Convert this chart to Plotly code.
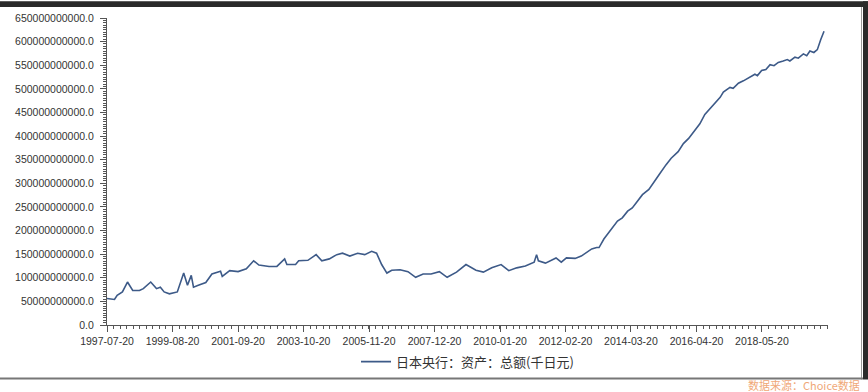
import plotly.graph_objects as go

# ---- data ----
dates = [
    "1997-07-20", "1997-10-15", "1997-11-15", "1998-01-15", "1998-03-15", "1998-05-15",
    "1998-08-01", "1998-09-15", "1998-12-10", "1999-02-15", "1999-04-01", "1999-05-15",
    "1999-07-15", "1999-10-15", "1999-12-28", "2000-02-10", "2000-03-25", "2000-04-20",
    "2000-06-15", "2000-09-10", "2000-11-20", "2001-02-28", "2001-03-20", "2001-06-15",
    "2001-09-20", "2001-12-25", "2002-03-20", "2002-05-20", "2002-09-15", "2002-12-15",
    "2003-03-15", "2003-04-10", "2003-07-20", "2003-08-25", "2003-12-10", "2004-03-15",
    "2004-05-20", "2004-08-15", "2004-11-10", "2005-01-15", "2005-04-10", "2005-07-10",
    "2005-10-01", "2005-12-20", "2006-02-15", "2006-04-15", "2006-06-15", "2006-08-10",
    "2006-11-15", "2007-02-15", "2007-05-15", "2007-08-10", "2007-11-10", "2008-02-15",
    "2008-05-15", "2008-09-01", "2008-12-20", "2009-04-15", "2009-07-10", "2009-10-15",
    "2010-02-01", "2010-05-01", "2010-08-01", "2010-11-10", "2011-02-20", "2011-03-20",
    "2011-04-10", "2011-07-01", "2011-11-01", "2012-01-01", "2012-03-01", "2012-06-10",
    "2012-08-20", "2012-10-20", "2012-12-20", "2013-02-15", "2013-03-15", "2013-05-10",
    "2013-08-01", "2013-10-15", "2013-12-10", "2014-02-10", "2014-04-05", "2014-06-01",
    "2014-08-01", "2014-10-15", "2014-12-15", "2015-02-10", "2015-05-01", "2015-07-01",
    "2015-09-20", "2015-11-20", "2016-01-20", "2016-03-20", "2016-05-29", "2016-07-26",
    "2016-09-26", "2016-11-23", "2017-01-20", "2017-02-26", "2017-05-14", "2017-06-20",
    "2017-08-20", "2017-10-17", "2017-12-14", "2018-01-23", "2018-02-28", "2018-03-29",
    "2018-05-17", "2018-07-05", "2018-08-23", "2018-10-08", "2018-11-26", "2019-01-23",
    "2019-03-11", "2019-04-10", "2019-06-08", "2019-07-17", "2019-09-14", "2019-10-23",
    "2019-11-29", "2020-01-14", "2020-02-23", "2020-04-02", "2020-05-11",
]
values_bn = [
    56, 54, 63, 70, 91, 73,
    73, 77, 91, 77, 80, 70,
    66, 70, 110, 84, 105, 80,
    84, 90, 108, 114, 103, 115,
    113, 119, 136, 127, 124, 124,
    140, 128, 128, 136, 137, 149,
    136, 140, 149, 152, 146, 152,
    149, 156, 152, 128, 110, 116,
    117, 113, 101, 108, 108, 113,
    101, 112, 128, 116, 112, 121,
    128, 115, 121, 125, 133, 149,
    136, 131, 142, 133, 142, 141,
    146, 154, 161, 164, 164, 182,
    203, 220, 227, 241, 248, 262,
    276, 287, 304, 318, 339, 353,
    367, 384, 395, 409, 426, 446,
    458, 470, 482, 493, 503, 501,
    512, 517, 523, 526, 531, 528,
    539, 541, 551, 549, 556, 559,
    562, 559, 567, 565, 574, 570,
    580, 577, 583, 604, 622,
]
values = [v * 1e9 for v in values_bn]

x_tick_labels = ["1997-07-20", "1999-08-20", "2001-09-20", "2003-10-20", "2005-11-20",
                 "2007-12-20", "2010-01-20", "2012-02-20", "2014-03-20", "2016-04-20",
                 "2018-05-20"]
series_name = "日本央行：资产：总额(千日元)"
source_text = "数据来源：Choice数据"

W, H = 868, 392
L, R, T, B = 107, 40, 15, 67
pw, ph = W - L - R, H - T - B


def px(xp):
    return (xp - L) / pw


def py(yp):
    return (H - B - yp) / ph


fig = go.Figure()
fig.add_trace(go.Scatter(
    x=dates, y=values, mode="lines", name=series_name,
    line=dict(color="#3d5a88", width=1.6),
))

tick_font = dict(family="Liberation Sans, Arial, sans-serif", size=10.5, color="#333333")

fig.update_layout(
    width=W, height=H,
    margin=dict(l=L, r=R, t=T, b=B),
    paper_bgcolor="white", plot_bgcolor="white",
    showlegend=True,
    legend=dict(orientation="h", x=0.5, xanchor="center", y=py(362), yanchor="middle",
                font=dict(family="Noto Sans CJK SC", size=13, color="#333333"),
                bgcolor="rgba(0,0,0,0)"),
    xaxis=dict(
        type="date", range=["1997-07-20", "2020-06-26"],
        tickmode="array", tickvals=x_tick_labels, ticktext=x_tick_labels,
        ticks="outside", ticklen=6, tickcolor="#555555", tickwidth=1,
        showline=True, linecolor="#555555", linewidth=1,
        showgrid=False, zeroline=False, tickfont=tick_font,
        minor=dict(ticks="outside", ticklen=3, tickcolor="#555555",
                   tick0="1997-07-20", dtick=76.1 * 86400000, showgrid=False),
    ),
    yaxis=dict(
        range=[0, 650e9], tickmode="linear", tick0=0, dtick=50e9,
        tickformat=".1f", ticklabelstandoff=4,
        ticks="outside", ticklen=6, tickcolor="#555555", tickwidth=1,
        showline=True, linecolor="#555555", linewidth=1,
        showgrid=False, zeroline=False, tickfont=tick_font,
        minor=dict(ticks="outside", ticklen=3, tickcolor="#555555", dtick=5e9, showgrid=False),
    ),
    shapes=[
        dict(type="rect", xref="paper", yref="paper", x0=px(-2), x1=px(870), y0=py(4), y1=py(-2),
             fillcolor="#2a2a2a", line=dict(width=0), layer="above"),
        dict(type="rect", xref="paper", yref="paper", x0=px(863), x1=px(870), y0=py(380), y1=py(-2),
             fillcolor="#2a2a2a", line=dict(width=0), layer="above"),
        dict(type="line", xref="paper", yref="paper", x0=px(861.5), x1=px(861.5), y0=py(380), y1=py(4),
             line=dict(color="#9a9a9a", width=1), layer="above"),
        dict(type="line", xref="paper", yref="paper", x0=px(0), x1=px(863), y0=py(379), y1=py(379),
             line=dict(color="#777777", width=2), layer="above"),
    ],
    annotations=[
        dict(text=source_text, xref="paper", yref="paper", x=px(862), y=py(386),
             xanchor="right", yanchor="middle", showarrow=False,
             font=dict(family="Noto Sans CJK SC", size=11, color="#f0a878")),
    ],
)

fig.write_html("out.html")
